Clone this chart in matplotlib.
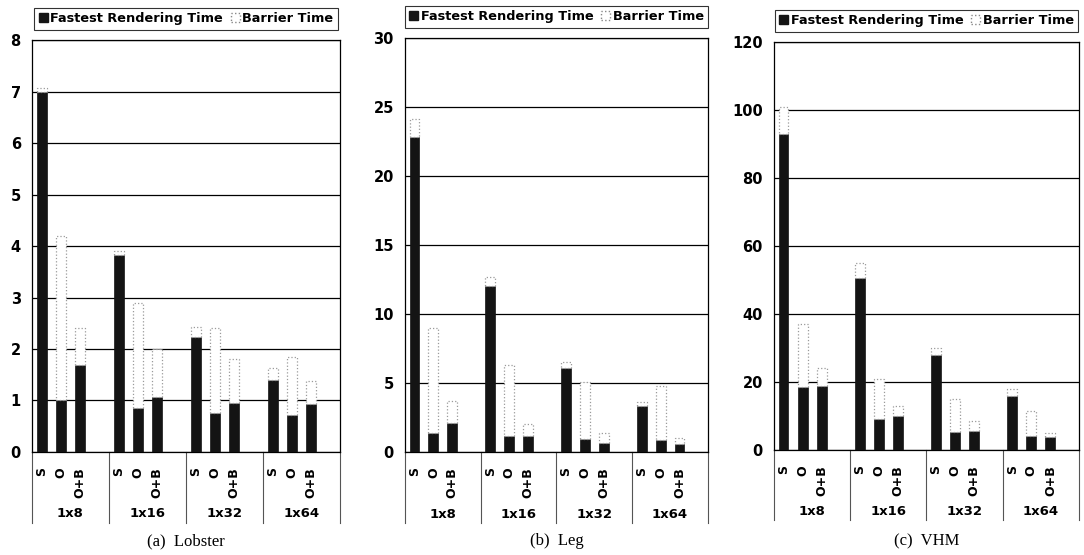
import numpy as np
import matplotlib.pyplot as plt
from matplotlib.patches import Patch
from matplotlib.transforms import blended_transform_factory

# Data
groups = ["1x8", "1x16", "1x32", "1x64"]
modes = ["S", "O", "O+B"]

lobster_fast = [7.0, 1.0, 1.68, 3.82, 0.85, 1.07, 2.23, 0.76, 0.95, 1.4, 0.72, 0.93]
lobster_total = [7.06, 4.2, 2.4, 3.9, 2.9, 2.0, 2.42, 2.4, 1.8, 1.63, 1.85, 1.38]

leg_fast = [22.8, 1.4, 2.1, 12.0, 1.15, 1.15, 6.1, 0.95, 0.65, 3.3, 0.85, 0.6]
leg_total = [24.1, 9.0, 3.7, 12.7, 6.3, 2.0, 6.5, 5.1, 1.4, 3.6, 4.8, 1.0]

vhm_fast = [93.0, 18.5, 18.7, 50.5, 9.2, 10.0, 27.8, 5.2, 5.5, 16.0, 4.2, 3.8]
vhm_total = [101.0, 37.0, 24.0, 55.0, 21.0, 13.0, 30.0, 15.0, 8.5, 18.0, 11.5, 5.0]

panels = [
    ("(a)  Lobster", lobster_fast, lobster_total, 8, 1, [0.0295, 0.1856, 0.2841, 0.7423]),
    ("(b)  Leg", leg_fast, leg_total, 30, 5, [0.3736, 0.1856, 0.2795, 0.7459]),
    ("(c)  VHM", vhm_fast, vhm_total, 120, 20, [0.7140, 0.1892, 0.2814, 0.7351]),
]

BOLD = dict(fontweight="bold", family="DejaVu Sans")

fig = plt.figure(figsize=(10.84, 5.55), dpi=100, facecolor="white")

for caption, fast, total, ymax, step, rect in panels:
    ax = fig.add_axes(rect)
    fast = np.array(fast)
    barrier = np.array(total) - fast

    # 4 slots per group, last slot left empty
    xs = np.array([g * 4 + i for g in range(len(groups)) for i in range(len(modes))])
    ax.bar(xs, fast, width=0.52, color="#141414", edgecolor="#141414", lw=0.5, zorder=3)
    ax.bar(xs, barrier, bottom=fast, width=0.52, color="white", edgecolor="#9a9a9a",
           lw=0.9, linestyle=":", zorder=3)

    ax.set_xlim(-0.5, 15.5)
    ax.set_ylim(0, ymax)
    ax.set_yticks(np.arange(0, ymax + step, step))
    ax.yaxis.grid(True, color="black", lw=0.9, zorder=0)
    ax.set_axisbelow(True)
    ax.tick_params(axis="y", length=0, pad=8, labelsize=10.5)
    for lab in ax.get_yticklabels():
        lab.set_fontweight("bold")
    for sp in ax.spines.values():
        sp.set_color("black")
        sp.set_linewidth(0.9)

    ax.set_xticks(xs)
    ax.set_xticklabels(modes * len(groups), rotation=90, fontsize=9, fontweight="bold",
                       va="top")
    ax.tick_params(axis="x", length=0, pad=11)

    # category separators and group labels below the axis
    tr = blended_transform_factory(ax.transData, ax.transAxes)
    for g in range(len(groups) + 1):
        ax.plot([g * 4 - 0.5, g * 4 - 0.5], [0, -0.172], transform=tr, color="#555555",
                lw=0.8, clip_on=False)
    for g, name in enumerate(groups):
        ax.text(g * 4 + 1.5, -0.15, name, transform=tr, ha="center", va="center",
                fontsize=9.5, **BOLD)

    handles = [Patch(facecolor="#141414", edgecolor="#141414", label="Fastest Rendering Time"),
               Patch(facecolor="white", edgecolor="#888888", linestyle=":", label="Barrier Time")]
    leg = ax.legend(handles=handles, loc="lower center", bbox_to_anchor=(0.5, 1.025), ncol=2,
                    frameon=True, fancybox=False, edgecolor="black", handlelength=0.7,
                    handleheight=0.7, handletextpad=0.2, columnspacing=0.6, borderpad=0.35,
                    borderaxespad=0, prop=dict(weight="bold", size=9.3))
    leg.get_frame().set_linewidth(0.8)

    fig.text(rect[0] + rect[2] / 2, 0.025, caption, ha="center", va="center",
             fontsize=12, family="Liberation Serif")

fig.savefig("out.png", dpi=100, facecolor="white")
